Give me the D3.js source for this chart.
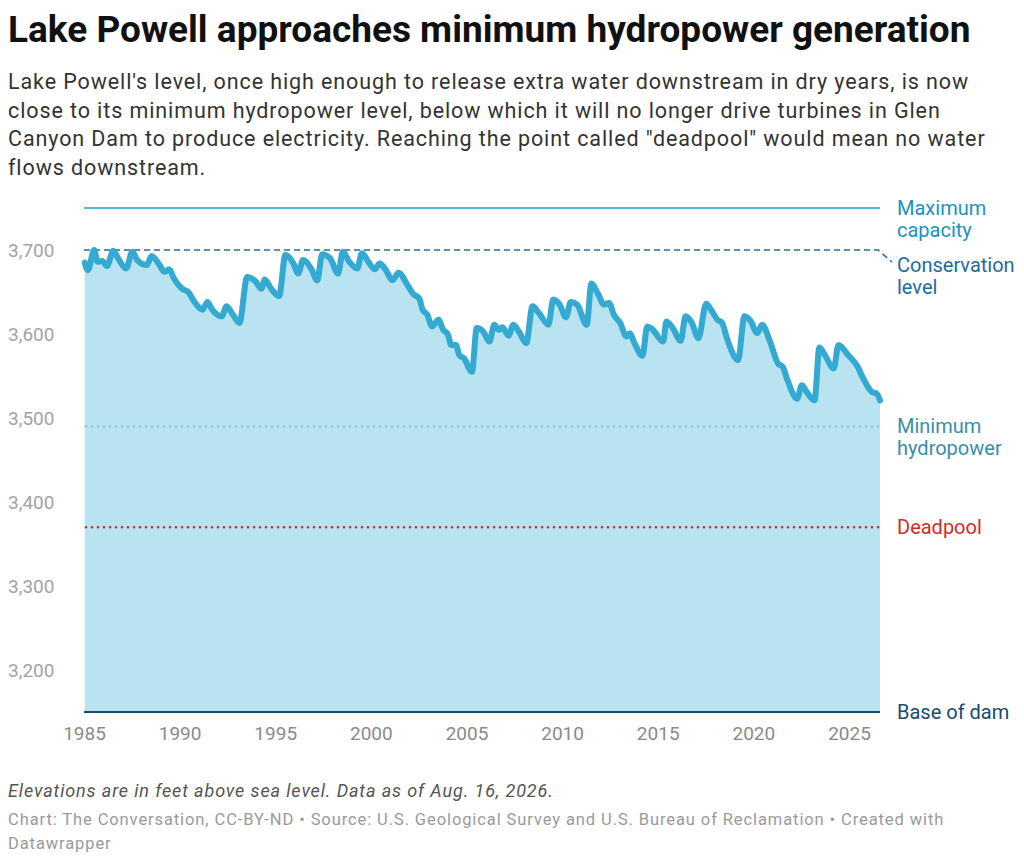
<!DOCTYPE html>
<html>
<head>
<meta charset="utf-8">
<script src="https://cdn.jsdelivr.net/npm/d3@7"></script>
<style>
  html, body { margin: 0; padding: 0; background: #fff; }
  svg { display: block; font-family: Roboto, "Noto Sans", sans-serif; }
</style>
</head>
<body>
<svg id="chart" width="1024" height="863"></svg>
<script>
// ---------------- DATA ----------------
const titleText = "Lake Powell approaches minimum hydropower generation";
const subtitleLines = [
  "Lake Powell's level, once high enough to release extra water downstream in dry years, is now",
  "close to its minimum hydropower level, below which it will no longer drive turbines in Glen",
  "Canyon Dam to produce electricity. Reaching the point called \"deadpool\" would mean no water",
  "flows downstream."
];
const noteText = "Elevations are in feet above sea level. Data as of Aug. 16, 2026.";
const sourceLines = [
  "Chart: The Conversation, CC-BY-ND \u2022 Source: U.S. Geological Survey and U.S. Bureau of Reclamation \u2022 Created with",
  "Datawrapper"
];

// Month of reading (YYYY-MM) and lake elevation in feet
const dates = [
  "1985-01","1985-03","1985-07","1985-09","1985-12","1986-03","1986-07","1986-10",
  "1987-03","1987-07","1987-10","1988-04","1988-07","1988-12","1989-03","1989-06",
  "1989-09","1990-02","1990-06","1990-10","1991-03","1991-06","1991-09","1992-03",
  "1992-06","1992-10","1993-02","1993-07","1993-12","1994-04","1994-06","1994-10",
  "1995-03","1995-07","1995-12","1996-03","1996-06","1996-11","1997-03","1997-06",
  "1997-11","1998-04","1998-07","1998-11","1999-04","1999-07","1999-11","2000-03",
  "2000-06","2000-10","2001-02","2001-06","2001-11","2002-03","2002-07","2002-09",
  "2002-12","2003-03","2003-07","2003-10","2004-01","2004-03","2004-06","2004-08",
  "2004-11","2005-04","2005-07","2005-11","2006-03","2006-06","2006-09","2006-11",
  "2007-03","2007-06","2007-10","2008-02","2008-06","2008-10","2009-04","2009-07",
  "2009-11","2010-03","2010-06","2010-10","2011-04","2011-07","2011-11","2012-03",
  "2012-06","2012-09","2013-01","2013-05","2013-07","2013-10","2014-03","2014-06",
  "2014-09","2015-04","2015-06","2015-10","2016-03","2016-06","2016-10","2017-02",
  "2017-07","2017-10","2018-02","2018-05","2018-08","2019-03","2019-07","2019-11",
  "2020-03","2020-06","2020-11","2021-04","2021-07","2021-10","2022-04","2022-07",
  "2022-10","2023-03","2023-06","2023-10","2024-03","2024-06","2024-12","2025-06",
  "2025-09","2026-03","2026-06","2026-08"
];
const levels = [
  3685,3676,3700,3686,3687,3681,3699,3690,
  3678,3698,3688,3682,3693,3682,3674,3677,
  3666,3654,3650,3638,3629,3638,3629,3621,
  3633,3623,3613,3668,3663,3654,3665,3654,
  3645,3694,3684,3672,3688,3678,3664,3695,
  3690,3672,3698,3686,3678,3696,3686,3677,
  3684,3676,3664,3673,3660,3648,3642,3629,
  3623,3609,3617,3605,3599,3587,3587,3575,
  3571,3555,3607,3603,3591,3611,3605,3608,
  3598,3611,3601,3589,3633,3625,3611,3641,
  3635,3620,3638,3635,3611,3660,3648,3635,
  3637,3623,3613,3597,3601,3589,3574,3609,
  3606,3591,3615,3607,3592,3621,3613,3595,
  3636,3629,3617,3613,3595,3569,3621,3615,
  3601,3611,3591,3565,3561,3545,3523,3539,
  3531,3521,3584,3573,3559,3587,3575,3561,
  3549,3531,3529,3521
];

// Reference elevations
const refNames  = ["Maximum capacity", "Conservation level", "Minimum hydropower", "Deadpool", "Base of dam"];
const refValues = [3750, 3700, 3490, 3370, 3150];

const yTicks = [3200, 3300, 3400, 3500, 3600, 3700];
const xTickYears = [1985, 1990, 1995, 2000, 2005, 2010, 2015, 2020, 2025];

// ---------------- DRAW ----------------
const svg = d3.select("#chart");
svg.append("rect").attr("width", 1024).attr("height", 863).attr("fill", "#fff");

// Header
svg.append("text").text(titleText)
  .attr("x", 8).attr("y", 42)
  .attr("font-size", 37).attr("font-weight", 700).attr("fill", "#111");

const sub = svg.append("text").attr("font-size", 21.5).attr("letter-spacing", 0.9).attr("fill", "#333");
subtitleLines.forEach((l, i) => {
  sub.append("tspan").attr("x", 8).attr("y", 89 + i * 28.7).text(l);
});

// Scales
const parse = s => { const [yy, mm] = s.split("-").map(Number); return new Date(yy, mm - 1, 15); };
const data = dates.map((d, i) => ({ date: parse(d), value: levels[i] }));
data[data.length - 1].date = new Date(2026, 7, 16);

const x = d3.scaleTime()
  .domain([new Date(1985, 0, 1), new Date(2026, 7, 16)])
  .range([84, 880]);
const y = d3.scaleLinear()
  .domain([3150, 3750])
  .range([712, 208]);

const base = refValues[4];

// Area
svg.append("path").datum(data)
  .attr("fill", "#b9e3f1")
  .attr("d", d3.area().x(d => x(d.date)).y0(y(base)).y1(d => y(d.value)).curve(d3.curveMonotoneX));

// Reference lines
const x0 = x.range()[0], x1 = x.range()[1];
// Maximum capacity
svg.append("line").attr("x1", x0).attr("x2", x1).attr("y1", y(refValues[0])).attr("y2", y(refValues[0]))
  .attr("stroke", "#1f9fcc").attr("stroke-width", 1.5);
// Conservation level (dashed) + connector
svg.append("path")
  .attr("d", `M${x0},${y(refValues[1])}H${x1 - 2}L${x1 + 12},${y(refValues[1]) + 12}`)
  .attr("fill", "none").attr("stroke", "#1f6ea3").attr("stroke-width", 1.5)
  .attr("stroke-dasharray", "6 4");
// Minimum hydropower (dotted)
svg.append("line").attr("x1", x0 + 2).attr("x2", x1).attr("y1", y(refValues[2])).attr("y2", y(refValues[2]))
  .attr("stroke", "#7fd0e2").attr("stroke-width", 2.6)
  .attr("stroke-linecap", "round").attr("stroke-dasharray", "0 6");
// Deadpool (dotted)
svg.append("line").attr("x1", x0 + 2).attr("x2", x1).attr("y1", y(refValues[3])).attr("y2", y(refValues[3]))
  .attr("stroke", "#d22b2b").attr("stroke-width", 2.6)
  .attr("stroke-linecap", "round").attr("stroke-dasharray", "0 6");
// Base of dam
svg.append("line").attr("x1", x0).attr("x2", x1).attr("y1", y(base)).attr("y2", y(base))
  .attr("stroke", "#1b4a6d").attr("stroke-width", 2);

// Main line
svg.append("path").datum(data)
  .attr("fill", "none").attr("stroke", "#34a9d1").attr("stroke-width", 6)
  .attr("stroke-linejoin", "round").attr("stroke-linecap", "round")
  .attr("d", d3.line().x(d => x(d.date)).y(d => y(d.value)).curve(d3.curveMonotoneX));

// Reference labels
const labelSpecs = [
  { name: refNames[0], color: "#1a93c0", lines: ["Maximum", "capacity"], yy: y(refValues[0]) },
  { name: refNames[1], color: "#1f6a9e", lines: ["Conservation", "level"], yy: y(refValues[1]) + 14.5 },
  { name: refNames[2], color: "#3b8ea3", lines: ["Minimum", "hydropower"], yy: y(refValues[2]) },
  { name: refNames[3], color: "#d22b2b", lines: ["Deadpool"], yy: y(refValues[3]) },
  { name: refNames[4], color: "#1b4a6d", lines: ["Base of dam"], yy: y(base) }
];
labelSpecs.forEach(s => {
  const t = svg.append("text").attr("font-size", 20).attr("fill", s.color);
  s.lines.forEach((l, i) => {
    t.append("tspan").attr("x", 897).attr("y", s.yy + 7 + i * 22).text(l);
  });
});

// Y axis labels
svg.append("g").selectAll("text").data(yTicks).join("text")
  .attr("x", 8).attr("y", d => y(d)).attr("dy", "0.35em")
  .attr("font-size", 19).attr("fill", "#a3a3a3")
  .text(d3.format(","));

// X axis
const xAxis = d3.axisBottom(x)
  .tickValues(xTickYears.map(yr => new Date(yr, 0, 1)))
  .tickFormat(d3.timeFormat("%Y"))
  .tickSize(0).tickPadding(0);
const gx = svg.append("g").attr("transform", `translate(0,${y(base) + 14})`).call(xAxis);
gx.select(".domain").remove();
gx.selectAll("text").attr("font-size", 19).attr("fill", "#8a8a8a")
  .attr("font-family", "Roboto, sans-serif").attr("dy", "0.75em");

// Footer
svg.append("text").text(noteText)
  .attr("x", 8).attr("y", 797).attr("font-size", 18).attr("letter-spacing", 0.88)
  .attr("font-style", "italic").attr("fill", "#555");
const src = svg.append("text").attr("font-size", 16.5).attr("letter-spacing", 0.9).attr("fill", "#9a9a9a");
sourceLines.forEach((l, i) => {
  src.append("tspan").attr("x", 8).attr("y", 825 + i * 24).text(l);
});
</script>
</body>
</html>
